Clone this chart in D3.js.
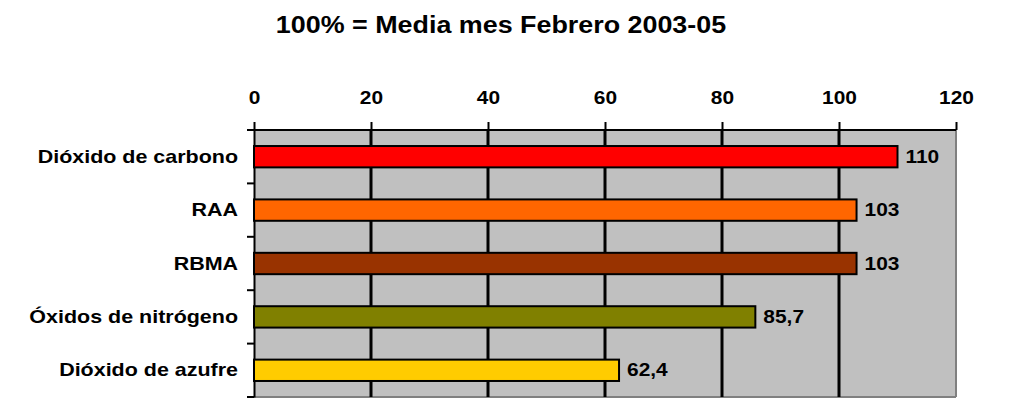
<!DOCTYPE html>
<html><head><meta charset="utf-8">
<script src="https://cdn.jsdelivr.net/npm/d3@7"></script>
<style>body{margin:0;background:#fff;}svg{display:block;font-family:"Liberation Sans",Arial,sans-serif;font-weight:bold;}</style>
</head><body><svg id="c" width="1017" height="405"></svg>
<script>
const categories = ["Dióxido de carbono","RAA","RBMA","Óxidos de nitrógeno","Dióxido de azufre"];
const values = [110,103,103,85.7,62.4];
const valueLabels = ["110","103","103","85,7","62,4"];
const colors = ["#FF0000","#FF6600","#993300","#808000","#FFCC00"];
const tickValues = [0,20,40,60,80,100,120];
const title = "100% = Media mes Febrero 2003-05";

const svg = d3.select("#c");
const W = 1017, H = 405;
const m = {left:254, right:W-956, top:130, bottom:H-397};
const SX = 1.1, FS = 19;
const x = d3.scaleLinear().domain([0,120]).range([m.left, W-m.right]);
const y = d3.scaleBand().domain(categories).range([m.top, H-m.bottom]).paddingInner(0.6).paddingOuter(0.3);
const yb = d3.scaleBand().domain(categories).range([m.top, H-m.bottom]);

svg.append("text").attr("transform","translate(501,33) scale(1.12,1)").attr("text-anchor","middle").attr("font-size",24).text(title);

// plot background
svg.append("rect").attr("x",x(0)).attr("y",m.top).attr("width",x(120)-x(0)).attr("height",H-m.bottom-m.top).attr("fill","#C0C0C0");
// right & bottom border gray
svg.append("line").attr("x1",x(120)).attr("x2",x(120)).attr("y1",m.top).attr("y2",H-m.bottom).attr("stroke","#808080").attr("stroke-width",2);
svg.append("line").attr("x1",x(0)).attr("x2",x(120)).attr("y1",H-m.bottom).attr("y2",H-m.bottom).attr("stroke","#808080").attr("stroke-width",2);

// gridlines
svg.append("g").selectAll("line").data(tickValues.filter(d=>d>0 && d<120)).join("line")
  .attr("x1",d=>x(d)).attr("x2",d=>x(d)).attr("y1",m.top).attr("y2",H-m.bottom)
  .attr("stroke","#000").attr("stroke-width",3);

// top axis
const xAxis = d3.axisTop(x).tickValues(tickValues).tickSize(8).tickPadding(18).tickFormat(d3.format("d"));
const gx = svg.append("g").attr("transform",`translate(0,${m.top})`).call(xAxis);
gx.select(".domain").attr("stroke","#000").attr("stroke-width",2).attr("d",`M${x(0)},0H${x(120)}`);
gx.selectAll(".tick line").attr("stroke","#000").attr("stroke-width",2);
gx.selectAll(".tick text").attr("font-size",FS).attr("font-weight","bold").attr("fill","#000")
  .attr("font-family","Liberation Sans, Arial, sans-serif").attr("transform",`scale(${SX},1)`);

// left axis
const yAxis = d3.axisLeft(yb).tickSize(0).tickPadding(16);
const gy = svg.append("g").attr("transform",`translate(${m.left},0)`).call(yAxis);
gy.select(".domain").attr("stroke","#000").attr("stroke-width",2);
gy.selectAll(".tick text").attr("font-size",FS).attr("font-weight","bold").attr("fill","#000")
  .attr("font-family","Liberation Sans, Arial, sans-serif")
  .attr("x",-16/1.13).attr("transform","scale(1.13,1)");
// boundary ticks
const bounds = categories.map(c=>yb(c)).concat([H-m.bottom]);
svg.append("g").selectAll("line").data(bounds).join("line")
  .attr("x1",m.left-7).attr("x2",m.left).attr("y1",d=>d).attr("y2",d=>d).attr("stroke","#000").attr("stroke-width",2);

// bars
svg.append("g").selectAll("rect").data(categories).join("rect")
  .attr("x",x(0)).attr("y",(d)=>y(d)).attr("width",(d,i)=>x(values[i])-x(0)).attr("height",y.bandwidth())
  .attr("fill",(d,i)=>colors[i]).attr("stroke","#000").attr("stroke-width",2);

// value labels
svg.append("g").selectAll("text").data(categories).join("text")
  .attr("transform",(d,i)=>`translate(${x(values[i])+8},${y(d)+y.bandwidth()/2+6}) scale(${SX},1)`)
  .attr("font-size",FS).text((d,i)=>valueLabels[i]);
</script></body></html>
